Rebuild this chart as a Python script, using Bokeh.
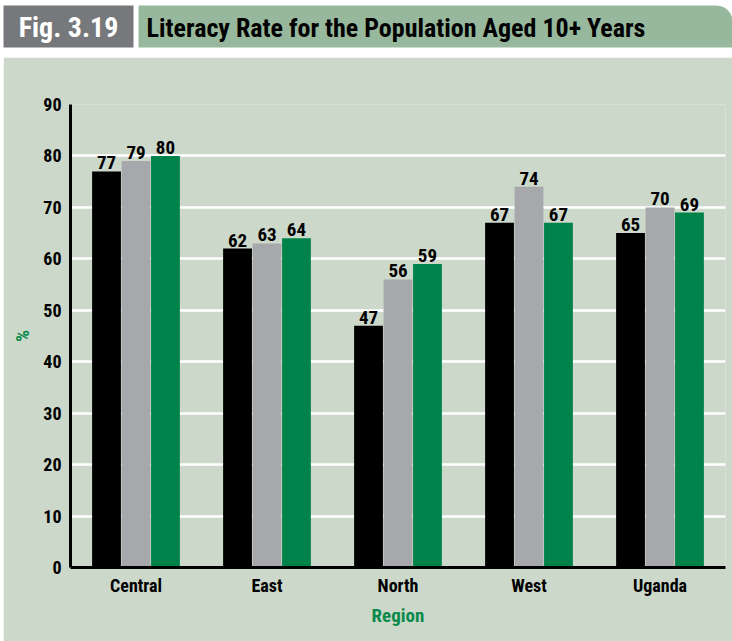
import numpy as np
from bokeh.plotting import figure
from bokeh.models import ColumnDataSource, FactorRange, Range1d, Label, FixedTicker, Spacer
from bokeh.transform import dodge
from bokeh.layouts import column, row
from bokeh.embed import file_html
from bokeh.resources import INLINE
from bokeh.core.properties import value

# ---- data ----
regions = ["Central", "East", "North", "West", "Uganda"]
series_1 = [77, 62, 47, 67, 65]
series_2 = [79, 63, 56, 74, 70]
series_3 = [80, 64, 59, 67, 69]
y_ticks = [0, 10, 20, 30, 40, 50, 60, 70, 80, 90]
fig_label = "Fig. 3.19"
title_text = "Literacy Rate for the Population Aged 10+ Years"
x_title = "Region"
y_title = "%"

# ---- style ----
FONT = "'Roboto Condensed', 'DejaVu Sans Condensed', 'Liberation Sans Narrow', 'Open Sans Condensed', Roboto"
PANEL = "#CCD8CA"
HDR_GREEN = "#97B89C"
HDR_GRAY = "#77787B"
BAR_BLACK = "#000000"
BAR_GRAY = "#A7A8AB"
BAR_GREEN = "#00834A"
TXT_GREEN = "#0A8A4A"

# ---- header ----
hdr = figure(width=732, height=57, x_range=Range1d(0, 732), y_range=Range1d(57, 0),
             toolbar_location=None, output_backend="svg", min_border=0,
             x_axis_type=None, y_axis_type=None, outline_line_color=None,
             background_fill_color="white", border_fill_color="white")
hdr.grid.visible = False
hdr.quad(left=[3], right=[133], top=[5], bottom=[47], fill_color=HDR_GRAY, line_color=None)
r = 16
ang = np.linspace(-np.pi / 2, 0, 12)
gx = [138] + list(732 - r + r * np.cos(ang)) + [732, 138]
gy = [5] + list(5 + r + r * np.sin(ang)) + [47, 47]
hdr.patch(gx, gy, fill_color=HDR_GREEN, line_color=None)
hdr.add_layout(Label(x=68, y=27, text=fig_label, text_font=FONT, text_font_style="bold",
                     text_font_size="28px", text_color="white", text_align="center",
                     text_baseline="middle"))
hdr.add_layout(Label(x=146, y=27, text=title_text, text_font=FONT, text_font_style="bold",
                     text_font_size="26px", text_color="black", text_align="left",
                     text_baseline="middle"))

# ---- main chart ----
src = ColumnDataSource(dict(region=regions, s1=series_1, s2=series_2, s3=series_3,
                            l1=[str(v) for v in series_1], l2=[str(v) for v in series_2],
                            l3=[str(v) for v in series_3]))

p = figure(width=729, height=584, x_range=FactorRange(factors=regions, range_padding=0),
           y_range=Range1d(0, 90), toolbar_location=None, output_backend="svg",
           min_border_left=67, min_border_right=7, min_border_top=47, min_border_bottom=74,
           background_fill_color=PANEL, border_fill_color=PANEL, outline_line_color=None)

W = 0.22
OFF = 0.225
for col, lab, off, color in [("s1", "l1", -OFF, BAR_BLACK), ("s2", "l2", 0, BAR_GRAY),
                             ("s3", "l3", OFF, BAR_GREEN)]:
    p.vbar(x=dodge("region", off, range=p.x_range), top=col, width=W, source=src,
           fill_color=color, line_color=None)
    p.text(x=dodge("region", off, range=p.x_range), y=col, text=lab, source=src,
           text_font=value(FONT), text_font_style="bold", text_font_size="19px",
           text_color="black", text_align="center", text_baseline="bottom", y_offset=-2)

p.xgrid.visible = False
p.ygrid.grid_line_color = "white"
p.ygrid.grid_line_width = 2.5
p.yaxis.ticker = FixedTicker(ticks=y_ticks)

for ax in (p.xaxis[0], p.yaxis[0]):
    ax.axis_line_width = 3
    ax.axis_line_color = "black"
    ax.major_tick_line_color = None
    ax.minor_tick_line_color = None
    ax.major_tick_out = 0
    ax.major_tick_in = 0
    ax.minor_tick_out = 0
    ax.minor_tick_in = 0
    ax.major_label_text_font = FONT
    ax.major_label_text_font_style = "bold"
    ax.major_label_text_font_size = "18px"
    ax.major_label_text_color = "black"
    ax.axis_label_text_font = FONT
    ax.axis_label_text_font_style = "bold"
    ax.axis_label_text_font_size = "19px"
    ax.axis_label_text_color = TXT_GREEN

p.yaxis.axis_label = y_title
p.yaxis.major_label_standoff = 9
p.yaxis.axis_label_standoff = 6
p.xaxis.axis_label = x_title
p.xaxis.major_label_standoff = 7
p.xaxis.axis_label_standoff = 5

layout = column(hdr, row(Spacer(width=3, height=584, styles={"background-color": "white"}), p), spacing=0)

open("out.html", "w").write(file_html(layout, INLINE))
